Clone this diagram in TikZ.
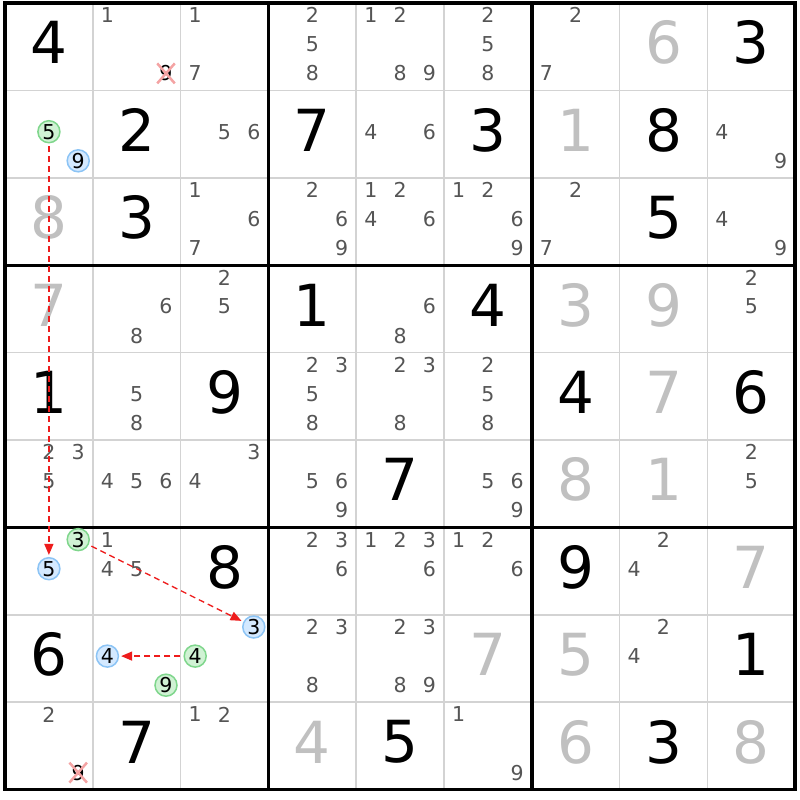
\documentclass[tikz,border=0pt]{standalone}
\usepackage{fontspec}
\setmainfont{DejaVu Sans}
\usetikzlibrary{arrows.meta,shapes.misc}

\definecolor{solvedgray}{HTML}{C0C0C0}
\definecolor{candgray}{HTML}{555555}
\definecolor{thingrid}{HTML}{D3D3D3}
\definecolor{ongreen}{HTML}{7FD68C}
\definecolor{ongreenfill}{HTML}{D0F2D4}
\definecolor{offblue}{HTML}{8CC4F5}
\definecolor{offbluefill}{HTML}{D4E9FF}
\definecolor{chainred}{HTML}{EE1C1C}
\definecolor{elimred}{HTML}{F4A3A3}

\newcommand\bigdigit{\fontsize{58}{58}\selectfont}
\newcommand\smalldigit{\fontsize{20.5}{20.5}\selectfont}

\begin{document}
\begin{tikzpicture}[x=1pt,y=-1pt,
	given/.style={font=\bigdigit,text=black,inner sep=0pt},
	solved/.style={font=\bigdigit,text=solvedgray,inner sep=0pt},
	cand/.style={font=\smalldigit,text=candgray,inner sep=0pt},
	ondigit/.style={circle,font=\smalldigit,minimum size=22pt,inner sep=0pt,line width=1.5pt,draw=ongreen,fill=ongreenfill},
	offdigit/.style={circle,font=\smalldigit,minimum size=22pt,inner sep=0pt,line width=1.5pt,draw=offblue,fill=offbluefill},
	gone/.style={cand,text=black,cross out,draw=elimred,line width=2.5pt,inner sep=1pt},
	link/.style={draw=chainred,line width=1.3pt,dash pattern=on 6pt off 4pt,-{Triangle[length=11pt,width=9pt]},shorten <=3pt,shorten >=2pt}]
	\useasboundingbox (0,0) rectangle (800,800);
	\fill[white] (0,0) rectangle (800,800);

	% grid
	\foreach \i in {1,...,8} {
		\draw[thingrid,line width=1.5pt] ({5+\i*87.8},3) -- ({5+\i*87.8},789.6);
		\draw[thingrid,line width=1.5pt] (5,{3+\i*87.4}) -- (795,{3+\i*87.4});
	}
	\foreach \i in {3,6} {
		\draw[line width=3.4pt] ({5+\i*87.8},3) -- ({5+\i*87.8},789.6);
		\draw[line width=3.4pt] (5,{3+\i*87.4}) -- (795,{3+\i*87.4});
	}
	\draw[line width=3.4pt] (5,3) rectangle (795,789.6);

	% givens and solved cells
	\foreach \r/\c/\d in {1/1/4,1/9/3,2/2/2,2/4/7,2/6/3,2/8/8,3/2/3,3/8/5,4/4/1,4/6/4,5/1/1,5/3/9,5/7/4,5/9/6,
		6/5/7,7/3/8,7/7/9,8/1/6,8/9/1,9/2/7,9/5/5,9/8/3}
		\node[given] (g\r\c) at ({5+(\c-0.5)*87.8},{3+(\r-0.5)*87.4-4}) {\d};
	\foreach \r/\c/\d in {1/8/6,2/7/1,3/1/8,4/1/7,4/7/3,4/8/9,5/8/7,6/7/8,6/8/1,7/9/7,8/6/7,8/7/5,9/4/4,9/7/6,9/9/8}
		\node[solved] (g\r\c) at ({5+(\c-0.5)*87.8},{3+(\r-0.5)*87.4-4}) {\d};

	% candidates
	\foreach \r/\c/\ds in {1/2/{1},1/3/{1,7},1/4/{2,5,8},1/5/{1,2,8,9},1/6/{2,5,8},1/7/{2,7},
		2/3/{5,6},2/5/{4,6},2/9/{4,9},
		3/3/{1,6,7},3/4/{2,6,9},3/5/{1,2,4,6},3/6/{1,2,6,9},3/7/{2,7},3/9/{4,9},
		4/2/{6,8},4/3/{2,5},4/5/{6,8},4/9/{2,5},
		5/2/{5,8},5/4/{2,3,5,8},5/5/{2,3,8},5/6/{2,5,8},
		6/1/{2,3,5},6/2/{4,5,6},6/3/{3,4},6/4/{5,6,9},6/6/{5,6,9},6/9/{2,5},
		7/2/{1,4,5},7/4/{2,3,6},7/5/{1,2,3,6},7/6/{1,2,6},7/8/{2,4},
		8/4/{2,3,8},8/5/{2,3,8,9},8/8/{2,4},
		9/1/{2},9/3/{1,2},9/6/{1,9}}
		\foreach \d in \ds
			\node[cand] (n\r\c\d) at ({5+(\c-1)*87.8+14.6+29.3*mod(\d-1,3)},{3+(\r-1)*87.4+12.2+29.1*floor((\d-1)/3)}) {\d};

	% eliminations
	\node[gone] (n129) at ({5+87.8+73.2},{3+70.4}) {9};
	\node[gone] (n919) at ({5+73.2},{3+8*87.4+70.4}) {9};

	% chain
	\node[ondigit] (n215) at ({5+43.9},{3+87.4+41.3}) {5};
	\node[offdigit] (n219) at ({5+73.2},{3+87.4+70.4}) {9};
	\node[ondigit] (n713) at ({5+73.2},{3+6*87.4+12.2}) {3};
	\node[offdigit] (n715) at ({5+43.9},{3+6*87.4+41.3}) {5};
	\node[offdigit] (n824) at ({5+87.8+14.6},{3+7*87.4+41.3}) {4};
	\node[ondigit] (n829) at ({5+87.8+73.2},{3+7*87.4+70.4}) {9};
	\node[offdigit] (n833) at ({5+2*87.8+73.2},{3+7*87.4+12.2}) {3};
	\node[ondigit] (n834) at ({5+2*87.8+14.6},{3+7*87.4+41.3}) {4};

	\draw[link] (n215) -- (n715);
	\draw[link] (n713) -- (n833);
	\draw[link] (n834) -- (n824);
\end{tikzpicture}
\end{document}
